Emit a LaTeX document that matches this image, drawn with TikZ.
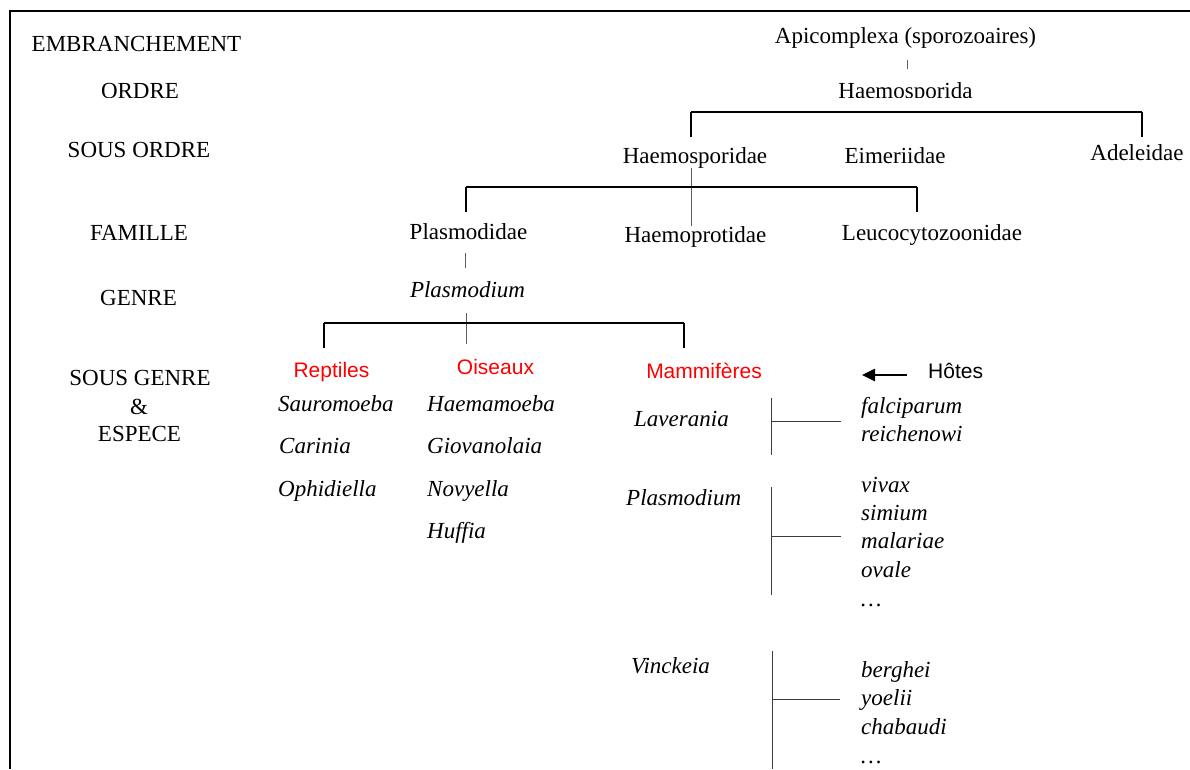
\documentclass[tikz,border=0pt]{standalone}
\usepackage{fontspec}
\setmainfont{Liberation Serif}
\newfontfamily\arialf{Liberation Sans}
\usetikzlibrary{arrows.meta}
\definecolor{tickgray}{RGB}{95,95,95}
\definecolor{linegray}{RGB}{60,60,60}
\definecolor{hostred}{RGB}{255,0,0}
\begin{document}
\begin{tikzpicture}[x=1pt,y=-1pt,
  lbl/.style={font=\fontsize{23}{27}\selectfont, inner sep=0pt, anchor=base},
  itl/.style={font=\fontsize{23}{27}\selectfont\itshape, inner sep=0pt, anchor=base west},
  host/.style={font=\arialf\fontsize{21}{25}\selectfont, text=hostred, inner sep=0pt, anchor=base},
  hline/.style={line width=1.3pt},
  legline/.style={line width=2.8pt},
  tickline/.style={line width=0.9pt, draw=tickgray},
  subline/.style={line width=1pt, draw=linegray},
  frameline/.style={line width=1.9pt},
  arr/.style={line width=2.6pt, -{Triangle[length=13pt,width=12pt]}}]
\useasboundingbox (0,0) rectangle (1190,769);
% frame
\draw[frameline] (1190,11) -- (10,11) -- (10,769);

% rank labels
\node[lbl] (embr) at (136.5,51) {EMBRANCHEMENT};
\begin{scope}
  \clip (0,0) rectangle (1190,97.3);
  \node[lbl] (ordre) at (140,98) {ORDRE};
  \node[lbl] (hsa) at (905.5,98) {Haemosporida};
\end{scope}
\node[lbl] (sordre) at (139,157) {SOUS ORDRE};
\node[lbl] (fam) at (139,240) {FAMILLE};
\node[lbl] (genre) at (138.5,305) {GENRE};
\node[lbl] (sgenre) at (140,385) {SOUS GENRE};
\node[lbl] (et) at (139,414) {\&};
\node[lbl] (espece) at (139.5,441) {ESPECE};

% tree
\node[lbl] (api) at (905.5,43) {Apicomplexa (sporozoaires)};
\node[lbl] (hsp) at (695,163) {Haemosporidae};
\node[lbl] (eim) at (895,163) {Eimeriidae};
\node[lbl] (ade) at (1137,160) {Adeleidae};
\node[lbl] (pld) at (468.5,239) {Plasmodidae};
\node[lbl] (hpt) at (695.5,242) {Haemoprotidae};
\node[lbl] (leu) at (932,240) {Leucocytozoonidae};
\node[lbl, font=\fontsize{23}{27}\selectfont\itshape] (plm) at (467.5,297) {Plasmodium};

\draw[tickline, shorten <=12pt, shorten >=13pt] ([xshift=1.5pt]api.south) -- ([xshift=1.5pt]hsa.north);

% bracket 1
\coordinate (b1l) at (691,112);
\coordinate (b1r) at (1142,112);
\draw[hline] (b1l) -- (b1r);
\draw[legline] (b1l) -- ++(0,25);
\draw[legline] (b1r) -- ++(0,25);

% Haemosporidae -> Haemoprotidae
\draw[tickline] ([xshift=-4pt]hsp.south) -- ([xshift=-4.5pt]hpt.north);

% bracket 2
\coordinate (b2l) at (466,187);
\coordinate (b2r) at (917,187);
\draw[hline] (b2l) -- (b2r);
\draw[legline] (b2l) -- ++(0,25);
\draw[legline] (b2r) -- ++(0,25);

% Plasmodidae -> Plasmodium
\draw[tickline, shorten <=14pt, shorten >=13pt] ([xshift=-3pt]pld.south) -- ([xshift=-2pt]plm.north);

% bracket 3
\coordinate (b3l) at (324,323);
\coordinate (b3r) at (684,323);
\coordinate (b3s) at (466,344);
\draw[tickline, shorten <=16pt] (plm.south -| b3s) -- (b3s);
\draw[hline] (b3l) -- (b3r);
\draw[legline] (b3l) -- ++(0,25);
\draw[legline] (b3r) -- ++(0,25);

% hosts
\node[host] (rep) at (331.5,377) {Reptiles};
\node[host] (ois) at (495.5,374) {Oiseaux};
\node[host] (mam) at (704,378) {Mammifères};
\node[host, text=black, anchor=base west] (hot) at (928,378) {Hôtes};
\coordinate (arrtip) at (862,375);
\draw[arr, shorten <=21pt] (hot.west |- arrtip) -- (arrtip);

% reptile genera
\node[itl] (sau) at (278,411) {Sauromoeba};
\node[itl] (car) at (279,453) {Carinia};
\node[itl] (oph) at (278,496) {Ophidiella};
% bird genera
\node[itl] (hae) at (427,411) {Haemamoeba};
\node[itl] (gio) at (427,453) {Giovanolaia};
\node[itl] (nov) at (427,496) {Novyella};
\node[itl] (huf) at (427,538) {Huffia};
% mammal subgenera
\node[itl] (lav) at (634,426) {Laverania};
\node[itl] (pls) at (626,505) {Plasmodium};
\node[itl] (vin) at (631,673) {Vinckeia};

% species
\node[itl] (fal) at (861,413) {falciparum};
\node[itl] (rei) at (861,441) {reichenowi};
\node[itl] (viv) at (861,492) {vivax};
\node[itl] (sim) at (861,520) {simium};
\node[itl] (mal) at (861,548) {malariae};
\node[itl] (ova) at (861,577) {ovale};
\node[itl] (dt1) at (861,606) {…};
\node[itl] (ber) at (861,677) {berghei};
\node[itl] (yoe) at (861,705) {yoelii};
\node[itl] (cha) at (861,734) {chabaudi};
\node[itl] (dt2) at (861,763) {…};

% subgenus -> species connectors
\coordinate (lavt) at (771,398);
\coordinate (lavb) at (771,455);
\coordinate (lavm) at (771,421);
\coordinate (lave) at (841,421);
\draw[subline] (lavt) -- (lavb);
\draw[subline] (lavm) -- (lave);

\coordinate (plst) at (771,487);
\coordinate (plsb) at (771,595);
\coordinate (plsm) at (771,536);
\coordinate (plse) at (841,536);
\draw[subline] (plst) -- (plsb);
\draw[subline] (plsm) -- (plse);

\coordinate (vint) at (772,651);
\coordinate (vinb) at (772,769);
\coordinate (vinm) at (772,699);
\coordinate (vine) at (840,699);
\draw[subline] (vint) -- (vinb);
\draw[subline] (vinm) -- (vine);
\end{tikzpicture}
\end{document}
